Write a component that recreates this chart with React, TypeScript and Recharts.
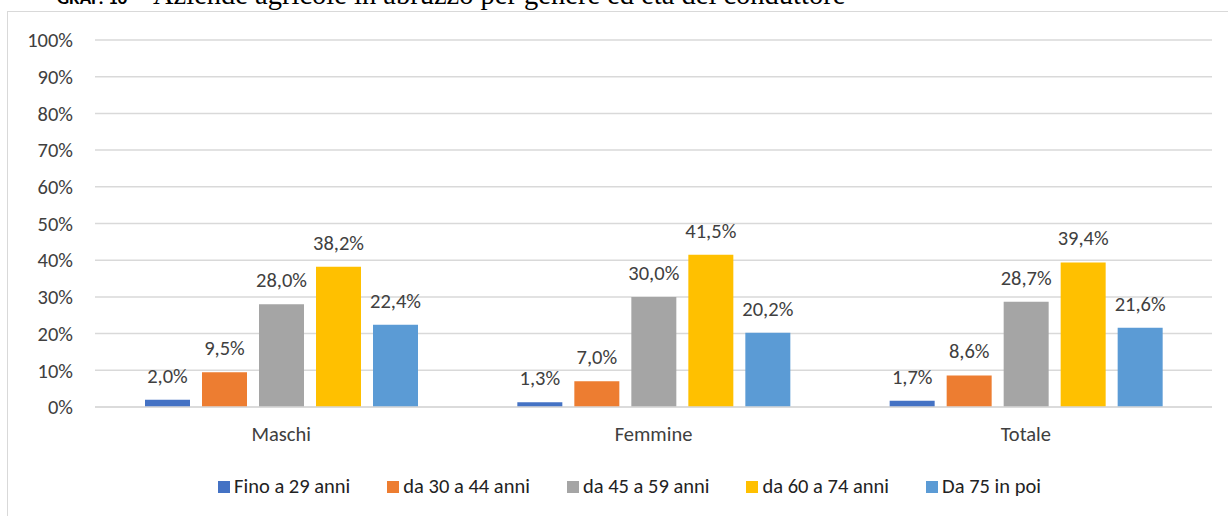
import { BarChart, Bar, XAxis, YAxis, CartesianGrid, Legend, LabelList } from "recharts";

const categories = ["Maschi", "Femmine", "Totale"];
const fino29 = [2.0, 1.3, 1.7];
const da30a44 = [9.5, 7.0, 8.6];
const da45a59 = [28.0, 30.0, 28.7];
const da60a74 = [38.2, 41.5, 39.4];
const da75 = [22.4, 20.2, 21.6];
const yTicks = [0, 10, 20, 30, 40, 50, 60, 70, 80, 90, 100];

const series = [
  { key: "fino29", name: "Fino a 29 anni", values: fino29, color: "#4472c4" },
  { key: "da30a44", name: "da 30 a 44 anni", values: da30a44, color: "#ed7d31" },
  { key: "da45a59", name: "da 45 a 59 anni", values: da45a59, color: "#a5a5a5" },
  { key: "da60a74", name: "da 60 a 74 anni", values: da60a74, color: "#ffc000" },
  { key: "da75", name: "Da 75 in poi", values: da75, color: "#5b9bd5" },
];

const data = categories.map((c, i) => {
  const row: Record<string, string | number> = { name: c };
  series.forEach((s) => (row[s.key] = s.values[i]));
  return row;
});

const FONT = "Carlito, 'Open Sans', sans-serif";
const FS = 20.5;
const TXT = "#404040";
const fmt = (v: any) => `${Number(v).toFixed(1).replace(".", ",")}%`;

function LegendBox() {
  return (
    <div style={{ display: "flex", justifyContent: "center", gap: 37, fontFamily: FONT, fontSize: FS, color: "#222", lineHeight: "25px", height: 25, paddingLeft: 47 }}>
      {series.map((s) => (
        <div key={s.key} style={{ display: "flex", alignItems: "center" }}>
          <span style={{ width: 12, height: 12, background: s.color, marginRight: 4, display: "inline-block" }} />
          {s.name}
        </div>
      ))}
    </div>
  );
}

export default function App() {
  return (
    <div style={{ position: "absolute", left: 0, top: 0, width: 1228, height: 516, overflow: "hidden", background: "#fff" }}>
      {/* title, cut at the top */}
      <div style={{ position: "absolute", left: 57, top: -21, whiteSpace: "nowrap", display: "flex", alignItems: "baseline" }}>
        <span style={{ fontFamily: FONT, fontWeight: "bold", fontSize: 19, width: 96 }}>GRAF. 16</span>
        <span style={{ fontFamily: "'Liberation Serif', 'Times New Roman', serif", fontSize: 28.5 }}>
          Aziende agricole in abruzzo per genere ed età del conduttore
        </span>
      </div>
      <div style={{ position: "absolute", left: 7, top: 11, width: 1240, height: 520, border: "1px solid #d9d9d9" }} />
      <div style={{ position: "absolute", left: 0, top: 0 }}>
        <BarChart
          width={1228}
          height={516}
          data={data}
          margin={{ top: 40, right: 16, bottom: 26, left: 0 }}
          barSize={45}
          barGap={12}
        >
          <CartesianGrid vertical={false} stroke="#d9d9d9" strokeWidth={1.5} />
          <XAxis
            dataKey="name"
            axisLine={{ stroke: "#d9d9d9", strokeWidth: 1.5 }}
            tickLine={false}
            tick={{ fontFamily: FONT, fontSize: FS, fill: TXT }}
            tickMargin={13}
            height={58}
          />
          <YAxis
            domain={[0, 100]}
            ticks={yTicks}
            tickFormatter={(v) => `${v}%`}
            axisLine={false}
            tickLine={false}
            tick={{ fontFamily: FONT, fontSize: FS, fill: TXT }}
            tickMargin={16}
            width={95}
          />
          <Legend verticalAlign="bottom" content={() => <LegendBox />} wrapperStyle={{ bottom: 17 }} />
          {series.map((s) => (
            <Bar key={s.key} dataKey={s.key} name={s.name} fill={s.color} isAnimationActive={false}>
              <LabelList
                dataKey={s.key}
                position="top"
                offset={17}
                formatter={fmt}
                style={{ fontFamily: FONT, fontSize: FS, fill: TXT }}
              />
            </Bar>
          ))}
        </BarChart>
      </div>
    </div>
  );
}
